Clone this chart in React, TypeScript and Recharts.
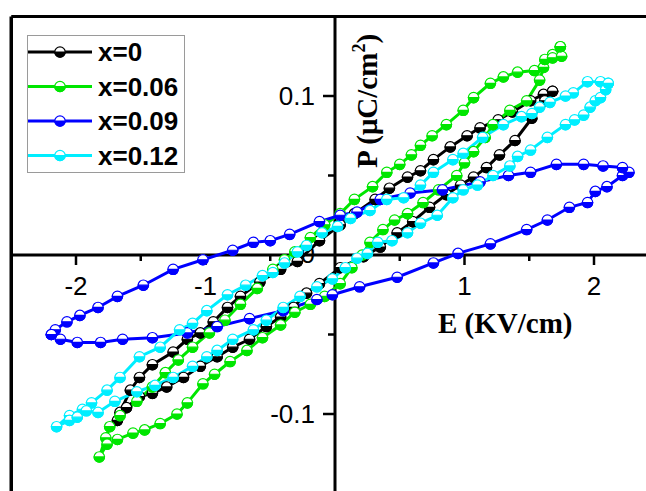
import React from 'react';
import { LineChart, Line, XAxis, YAxis, ReferenceLine, ReferenceDot, Legend } from 'recharts';

// [E (KV/cm), P (uC/cm^2)] in loop order
const loopX0: [number, number][] = [
  [1.68,0.103],[1.61,0.101],[1.51,0.097],[1.37,0.090],[1.26,0.085],[1.12,0.080],[1.02,0.075],[0.89,0.068],[0.76,0.060],[0.66,0.053],[0.56,0.049],[0.42,0.042],[0.31,0.035],[0.15,0.026],[0.04,0.019],[-0.12,0.009],[-0.29,-0.004],[-0.42,-0.009],[-0.58,-0.017],[-0.73,-0.026],[-0.83,-0.033],[-0.94,-0.042],[-1.04,-0.049],[-1.14,-0.053],[-1.25,-0.061],[-1.41,-0.069],[-1.51,-0.077],[-1.58,-0.085],[-1.66,-0.099],[-1.68,-0.104],
  [-1.61,-0.096],[-1.51,-0.089],[-1.41,-0.087],[-1.30,-0.083],[-1.17,-0.077],[-1.04,-0.070],[-0.91,-0.064],[-0.79,-0.058],[-0.66,-0.053],[-0.53,-0.045],[-0.42,-0.039],[-0.32,-0.033],[-0.22,-0.024],[-0.12,-0.018],[0.04,-0.008],[0.22,-0.001],[0.35,0.005],[0.48,0.014],[0.60,0.021],[0.73,0.030],[0.86,0.038],[0.97,0.044],[1.07,0.049],[1.17,0.055],[1.27,0.063],[1.39,0.072],[1.52,0.086],[1.62,0.097],[1.68,0.103],
];

const loopX006: [number, number][] = [
  [1.74,0.131],[1.68,0.126],[1.54,0.116],[1.41,0.115],[1.30,0.112],[1.20,0.108],[1.07,0.099],[0.99,0.091],[0.86,0.082],[0.75,0.075],[0.66,0.069],[0.59,0.063],[0.50,0.057],[0.40,0.052],[0.29,0.043],[0.15,0.035],[0.04,0.026],[-0.08,0.019],[-0.19,0.011],[-0.31,0.002],[-0.39,-0.003],[-0.48,-0.009],[-0.60,-0.021],[-0.73,-0.031],[-0.85,-0.041],[-0.97,-0.049],[-1.10,-0.058],[-1.21,-0.066],[-1.31,-0.074],[-1.41,-0.083],[-1.53,-0.092],[-1.66,-0.101],[-1.74,-0.108],[-1.77,-0.115],[-1.82,-0.127],
  [-1.76,-0.119],[-1.68,-0.116],[-1.56,-0.112],[-1.47,-0.110],[-1.35,-0.106],[-1.22,-0.100],[-1.14,-0.093],[-1.02,-0.081],[-0.93,-0.075],[-0.81,-0.067],[-0.68,-0.060],[-0.56,-0.052],[-0.42,-0.044],[-0.31,-0.036],[-0.19,-0.031],[-0.08,-0.026],[0.04,-0.018],[0.13,-0.008],[0.21,0.000],[0.27,0.008],[0.37,0.016],[0.46,0.022],[0.56,0.026],[0.68,0.033],[0.80,0.041],[0.94,0.050],[1.00,0.058],[1.07,0.065],[1.16,0.074],[1.22,0.082],[1.35,0.091],[1.48,0.097],[1.58,0.110],[1.61,0.118],[1.62,0.123],[1.68,0.124],[1.75,0.125],[1.74,0.131],
];

const loopX009: [number, number][] = [
  [-2.19,-0.050],[-2.12,-0.053],[-1.99,-0.055],[-1.81,-0.055],[-1.64,-0.053],[-1.41,-0.052],[-1.14,-0.049],[-0.91,-0.045],[-0.66,-0.040],[-0.40,-0.035],[-0.14,-0.028],[-0.02,-0.025],[0.19,-0.020],[0.48,-0.014],[0.76,-0.005],[0.95,0.001],[1.20,0.007],[1.48,0.016],[1.64,0.022],[1.81,0.030],[1.95,0.033],[2.01,0.040],[2.10,0.043],[2.22,0.050],[2.27,0.052],
  [2.22,0.055],[2.07,0.056],[1.92,0.057],[1.71,0.057],[1.51,0.052],[1.34,0.050],[1.12,0.046],[0.83,0.041],[0.58,0.039],[0.35,0.035],[0.17,0.027],[0.04,0.025],[-0.12,0.021],[-0.35,0.013],[-0.50,0.009],[-0.63,0.008],[-0.79,0.003],[-1.02,-0.003],[-1.25,-0.009],[-1.48,-0.019],[-1.68,-0.026],[-1.83,-0.033],[-1.97,-0.038],[-2.07,-0.042],[-2.16,-0.047],[-2.19,-0.050],
];

const loopX012: [number, number][] = [
  [2.11,0.108],[2.05,0.109],[1.95,0.109],[1.84,0.102],[1.78,0.100],[1.66,0.096],[1.58,0.093],[1.52,0.089],[1.44,0.087],[1.30,0.082],[1.14,0.074],[0.99,0.064],[0.91,0.060],[0.76,0.052],[0.66,0.044],[0.53,0.036],[0.40,0.035],[0.27,0.028],[0.12,0.023],[0.02,0.018],[-0.10,0.014],[-0.22,0.006],[-0.29,0.002],[-0.39,-0.005],[-0.48,-0.011],[-0.56,-0.013],[-0.69,-0.019],[-0.83,-0.025],[-0.99,-0.035],[-1.10,-0.043],[-1.20,-0.047],[-1.35,-0.058],[-1.51,-0.064],[-1.66,-0.077],[-1.76,-0.085],[-1.88,-0.093],[-1.95,-0.097],[-2.05,-0.101],[-2.15,-0.108],
  [-2.05,-0.104],[-1.99,-0.102],[-1.92,-0.098],[-1.83,-0.099],[-1.70,-0.092],[-1.53,-0.086],[-1.39,-0.082],[-1.25,-0.077],[-1.10,-0.070],[-0.99,-0.064],[-0.91,-0.060],[-0.79,-0.053],[-0.63,-0.047],[-0.53,-0.041],[-0.40,-0.033],[-0.27,-0.026],[-0.14,-0.020],[-0.02,-0.015],[0.08,-0.008],[0.17,-0.002],[0.25,0.001],[0.33,0.008],[0.44,0.009],[0.56,0.014],[0.66,0.020],[0.79,0.025],[0.91,0.036],[0.99,0.041],[1.10,0.044],[1.22,0.050],[1.35,0.056],[1.41,0.062],[1.51,0.066],[1.64,0.074],[1.78,0.082],[1.85,0.085],[1.92,0.088],[1.97,0.093],[2.01,0.097],[2.05,0.099],[2.09,0.104],[2.11,0.108],
];

const seriesNames = ['x=0', 'x=0.06', 'x=0.09', 'x=0.12'];
const seriesColors = ['#000000', '#00e600', '#0000ff', '#00eeff'];
const seriesLoops = [loopX0, loopX006, loopX009, loopX012];

const xMajorTicks = [-2, -1, 1, 2];
const xTickLabels = ['-2', '-1', '1', '2'];
const xMinorTicks = [-1.5, -0.5, 0.5, 1.5];
const yMajorTicks = [0.1, -0.1];
const yTickLabels = ['0.1', '-0.1'];
const yMinorTicks = [0.05, -0.05];

const xDomain: [number, number] = [-2.5, 2.5];
const yDomain: [number, number] = [-0.15, 0.15];

const SANS = 'Liberation Sans, Arial, sans-serif';
const SERIF = 'Liberation Serif, Times New Roman, serif';

const HalfDot = ({ cx, cy, color, r = 5.2 }: any) => {
  if (cx == null || cy == null) return <g />;
  return (
    <g>
      <circle cx={cx} cy={cy} r={r} fill="#fff" stroke={color} strokeWidth={1.2} />
      <path d={`M ${cx - r} ${cy} A ${r} ${r} 0 0 0 ${cx + r} ${cy} Z`} fill={color} stroke={color} strokeWidth={1.2} />
    </g>
  );
};

const renderLegend = (props: any) => {
  const { payload = [] } = props;
  return (
    <div style={{ width: 158, height: 138, border: '1.5px solid #9a9a9a', boxSizing: 'border-box', background: '#fff' }}>
      <svg width={155} height={135} style={{ display: 'block' }}>
        {payload.map((entry: any, i: number) => {
          const y = 16 + i * 34.5;
          return (
            <g key={entry.value}>
              <line x1={0} x2={64} y1={y} y2={y} stroke={entry.color} strokeWidth={3} />
              <HalfDot cx={32} cy={y} color={entry.color} />
              <text x={70} y={y} dominantBaseline="central" fontFamily={SANS} fontWeight="bold" fontSize={26} fill="#000">
                {entry.value}
              </text>
            </g>
          );
        })}
      </svg>
    </div>
  );
};

export default function App() {
  const W = 672;
  const H = 512;
  return (
    <div style={{ position: 'absolute', left: 0, top: 0, width: 646, height: 491, overflow: 'hidden', background: '#fff' }}>
      <LineChart width={W} height={H} margin={{ top: 16.5, left: 11.25, right: W - 11.25 - 647.5, bottom: H - 16.5 - 477 }}>
        <XAxis type="number" dataKey="E" domain={xDomain} allowDataOverflow hide />
        <YAxis type="number" dataKey="P" domain={yDomain} allowDataOverflow hide />
        <ReferenceLine y={yDomain[1]} stroke="#000" strokeWidth={3} />
        <ReferenceLine x={xDomain[0]} stroke="#000" strokeWidth={3.5} />
        <ReferenceLine y={0} stroke="#000" strokeWidth={3} />
        <ReferenceLine x={0} stroke="#000" strokeWidth={3} />
        {xMajorTicks.map((t, i) => (
          <ReferenceDot key={'xm' + t} x={t} y={0} r={0} shape={(p: any) => (
            <g>
              <line x1={p.cx} x2={p.cx} y1={p.cy} y2={p.cy + 10} stroke="#000" strokeWidth={2.5} />
              <text x={p.cx} y={p.cy + 40} textAnchor="middle" fontFamily={SANS} fontSize={26} fill="#000">{xTickLabels[i]}</text>
            </g>
          )} />
        ))}
        {xMinorTicks.map((t) => (
          <ReferenceDot key={'xn' + t} x={t} y={0} r={0} shape={(p: any) => (
            <line x1={p.cx} x2={p.cx} y1={p.cy} y2={p.cy + 6} stroke="#000" strokeWidth={2.5} />
          )} />
        ))}
        {yMajorTicks.map((t, i) => (
          <ReferenceDot key={'ym' + t} x={0} y={t} r={0} shape={(p: any) => (
            <g>
              <line x1={p.cx} x2={p.cx - 12} y1={p.cy} y2={p.cy} stroke="#000" strokeWidth={2.5} />
              <text x={p.cx - 20} y={p.cy + 9} textAnchor="end" fontFamily={SANS} fontSize={26} fill="#000">{yTickLabels[i]}</text>
            </g>
          )} />
        ))}
        {yMinorTicks.map((t) => (
          <ReferenceDot key={'yn' + t} x={0} y={t} r={0} shape={(p: any) => (
            <line x1={p.cx} x2={p.cx - 7} y1={p.cy} y2={p.cy} stroke="#000" strokeWidth={2.5} />
          )} />
        ))}
        <ReferenceDot x={0} y={0} r={0} shape={(p: any) => (
          <g>
            <text x={p.cx - 20} y={p.cy + 8} textAnchor="end" fontFamily={SANS} fontSize={26} fill="#000">0</text>
            <text x={p.cx + 103} y={p.cy + 78} textAnchor="start" fontFamily={SERIF} fontWeight="bold" fontSize={29} fill="#000">E (KV/cm)</text>
            <text x={p.cx + 42} y={p.cy - 154} transform={`rotate(-90 ${p.cx + 42} ${p.cy - 154})`} textAnchor="middle" fontFamily={SERIF} fontWeight="bold" fontSize={29} fill="#000">
              P (μC/cm<tspan dy={-12} fontSize={18}>2</tspan><tspan dy={12}>)</tspan>
            </text>
          </g>
        )} />
        {seriesLoops.map((loop, i) => (
          <Line
            key={seriesNames[i]}
            name={seriesNames[i]}
            data={loop.map(([E, P]) => ({ E, P }))}
            dataKey="P"
            type="linear"
            stroke={seriesColors[i]}
            strokeWidth={3}
            isAnimationActive={false}
            activeDot={false}
            dot={(p: any) => <HalfDot key={`${i}-${p.index}`} cx={p.cx} cy={p.cy} color={seriesColors[i]} />}
          />
        ))}
        <Legend layout="horizontal" verticalAlign="middle" align="center" wrapperStyle={{ left: 27, top: 35, width: 158, height: 138 }} content={renderLegend} />
      </LineChart>
    </div>
  );
}
